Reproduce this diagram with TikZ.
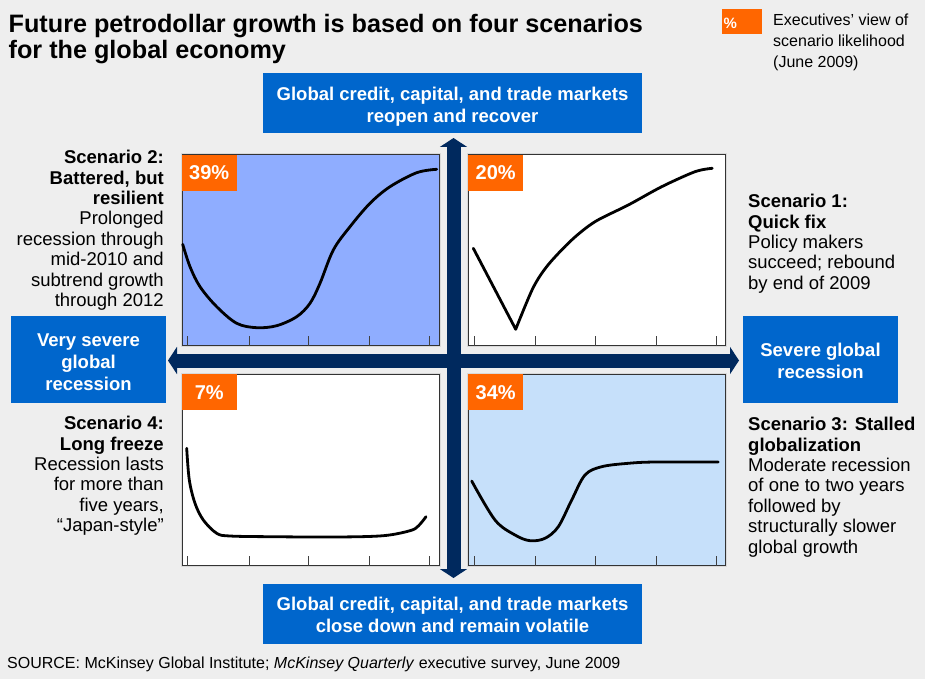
\documentclass[tikz,border=0pt]{standalone}
\usepackage{fontspec}
\setmainfont{Liberation Sans}
\usetikzlibrary{arrows.meta}
\definecolor{bggray}{HTML}{EEEEEE}
\definecolor{mckblue}{HTML}{0066CC}
\definecolor{navy}{HTML}{00295E}
\definecolor{mckorange}{HTML}{FF6600}
\definecolor{tlblue}{HTML}{8FADFF}
\definecolor{brblue}{HTML}{C6E0FA}
\begin{document}
\begin{tikzpicture}[x=1pt,y=-1pt,
  bluebox/.style={fill=mckblue, inner sep=0pt},
  boxtext/.style={text=white, font=\fontsize{18.5}{22}\selectfont\bfseries,
    align=center, inner sep=0pt},
  quad/.style={draw=black!80, line width=1pt, inner sep=0pt, minimum width=257pt,
    minimum height=190.5pt, preaction={draw=black!15, line width=3pt}},
  tag/.style={fill=mckorange, text=white, font=\fontsize{20}{22}\selectfont\bfseries,
    minimum width=55pt, minimum height=36pt, inner sep=0pt, anchor=north west},
  curve/.style={line width=2.8pt, line join=round, line cap=round},
  tickmark/.style={draw=black!75, line width=1pt},
  axis/.style={draw=navy, line width=14pt,
    {Triangle[width=27pt,length=9pt]}-{Triangle[width=27pt,length=9pt]}},
  scen/.style={font=\fontsize{18.5}{20.4}\selectfont, inner sep=0pt},
]
% canvas
\fill[bggray] (0,0) rectangle (925,679);
\useasboundingbox (0,0) rectangle (925,679);

% title
\node[anchor=north west, inner sep=0pt, align=left,
      font=\fontsize{25.2}{26}\selectfont\bfseries] (title) at (8.5,14)
  {Future petrodollar growth is based on four scenarios\\for the global economy};

% legend
\node[fill=mckorange, minimum width=40pt, minimum height=25pt, inner sep=0pt] (legbox) at (742,21.8) {};
\node[anchor=west, text=white, inner sep=0pt, font=\fontsize{15}{17}\selectfont\bfseries] (legpct) at (723.5,23) {\%};
\node[anchor=north west, inner sep=0pt, align=left, font=\fontsize{16}{20.8}\selectfont] (legtext) at (773,14)
  {Executives’ view of\\scenario likelihood\\(June 2009)};

% quadrants
\node[quad, fill=tlblue] (q2) at (310.5,250.25) {};
\node[quad, fill=white]  (q1) at (597,250.25) {};
\node[quad, fill=white]  (q4) at (310.5,470) {};
\node[quad, fill=brblue] (q3) at (597,470) {};

\foreach \q in {q1,q2,q3,q4}
  \foreach \dx in {6,67.5,127,188,248}
    \draw[tickmark] ([xshift=\dx pt]\q.south west) -- ++(0,-10);

% likelihood tags
\node[tag] (t2) at (q2.north west) {39\%};
\node[tag] (t1) at (q1.north west) {20\%};
\node[tag] (t4) at (q4.north west) {7\%};
\node[tag] (t3) at (q3.north west) {34\%};

% growth paths
\draw[curve] plot[smooth, tension=0.55] coordinates {
  (182.7,244.3) (190,266.7) (200,286.7) (216.7,306.7) (236.7,323.3) (256.7,327.7)
  (276.7,325.7) (296.7,316.7) (310,303.3) (320,283.3) (333.3,250) (350,226.7)
  (370,203.3) (390,186.7) (416.7,172.7) (436.7,169.3)};
\draw[curve] (473.3,248.3) -- (515.7,329.3) -- plot[smooth, tension=0.5] coordinates {
  (515.7,329.3) (533,288) (548,265) (571.7,240) (595,221.7) (628.3,205)
  (661.7,186.7) (695,171.7) (712.3,168.3)};
\draw[curve] plot[smooth, tension=0.55] coordinates {
  (186.7,448.3) (189.3,480) (195,503.3) (203.3,520) (216.7,533.3) (230,536)
  (270,536.7) (336.7,537) (383.3,535.7) (410,530.7) (418.3,526) (426,516.7)};
\draw[curve] plot[smooth, tension=0.55] coordinates {
  (471.7,481) (495,520) (515,535) (530,540.7) (545,538.3) (558.3,526.7)
  (571.7,500) (585,475) (601.7,466.7) (628.3,463.3) (655,462) (718.3,462)};

% axes
\coordinate (up)    at (453.5,138);
\coordinate (down)  at (453.5,578);
\coordinate (west)  at (168,360.5);
\coordinate (east)  at (739,360.5);
\draw[axis] (west) -- (east);
\draw[axis] (down) -- (up);

% axis labels
\node[bluebox, minimum width=379pt, minimum height=60pt] (top) at (452.5,103) {};
\node[boxtext] (toptext) at ([yshift=-3.5pt]top.center)
  {Global credit, capital, and trade markets\\reopen and recover};
\node[bluebox, minimum width=379pt, minimum height=60pt] (bottom) at (452.5,613.5) {};
\node[boxtext] (bottomtext) at ([yshift=-1pt]bottom.center)
  {Global credit, capital, and trade markets\\close down and remain volatile};
\node[bluebox, minimum width=155pt, minimum height=87pt] (left) at (88.5,359.5) {};
\node[boxtext] (lefttext) at ([yshift=-2.5pt]left.center)
  {Very severe\\global\\recession};
\node[bluebox, minimum width=155.5pt, minimum height=87pt] (right) at (820.5,359.5) {};
\node[boxtext] (righttext) at ([yshift=-1.5pt]right.center)
  {Severe global\\recession};

% scenario descriptions
\node[scen, anchor=north east, align=right] (s2) at (164,150)
  {\textbf{Scenario 2:}\\\textbf{Battered, but}\\\textbf{resilient}\\Prolonged\\recession through\\mid-2010 and\\subtrend growth\\through 2012};
\node[scen, anchor=north east, align=right] (s4) at (164,416)
  {\textbf{Scenario 4:}\\\textbf{Long freeze}\\Recession lasts\\for more than\\five years,\\“Japan-style”};
\node[scen, anchor=north west, align=left] (s1) at (748,194)
  {\textbf{Scenario 1:}\\\textbf{Quick fix}\\Policy makers\\succeed; rebound\\by end of 2009};
\node[scen, anchor=north west, align=left] (s3) at (748,417)
  {\textbf{Scenario 3: Stalled}\\\textbf{globalization}\\Moderate recession\\of one to two years\\followed by\\structurally slower\\global growth};

% source line
\node[anchor=base west, inner sep=0pt, font=\fontsize{16}{18}\selectfont] (source) at (7,668)
  {SOURCE: McKinsey Global Institute; \textit{McKinsey Quarterly} executive survey, June 2009};
\end{tikzpicture}
\end{document}
